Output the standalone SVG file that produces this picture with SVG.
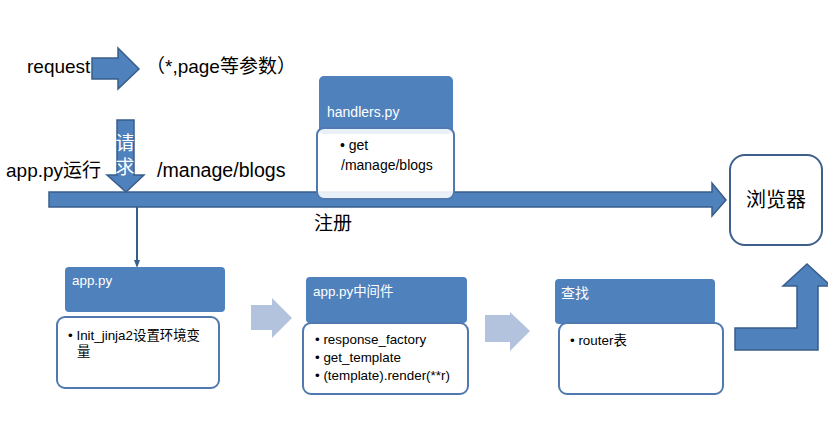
<svg xmlns="http://www.w3.org/2000/svg" width="828" height="448" viewBox="0 0 828 448">
<defs>
<style>
.blk{fill:#4f81bd;stroke:#385d8a;stroke-width:1.5}
.lt{fill:#b3c3de;stroke:none}
.hdr{fill:#4f81bd;stroke:none}
.box{fill:#ffffff;fill-opacity:0.88;stroke:#5079b0;stroke-width:2}
.t{font-family:"Liberation Sans","Noto Sans CJK SC",sans-serif;fill:#000}
.w{font-family:"Liberation Sans","Noto Sans CJK SC",sans-serif;fill:#ffffff}
.s13{font-size:13.4px}
.s19{font-size:19px}
</style>
<marker id="ah" markerWidth="8" markerHeight="6" refX="4" refY="3" orient="auto" markerUnits="userSpaceOnUse">
<path d="M0,0 L8,3 L0,6 Z" fill="#385d8a"/>
</marker>
</defs>
<rect width="828" height="448" fill="#ffffff"/>

<g id="connectors">
<path class="blk" d="M92,58 L118,58 L118,48 L139,69 L118,89 L118,79 L92,79 Z"/>
<path class="blk" d="M117,120 L134,120 L134,175 L144,175 L126,192 L107,175 L117,175 Z"/>
<path class="blk" d="M49,192 L712,192 L712,183 L726,200 L712,216 L712,207 L49,207 Z"/>
<line x1="137" y1="207" x2="137" y2="264" stroke="#385d8a" stroke-width="2" marker-end="url(#ah)"/>
<path class="lt" d="M251,305 L272,305 L272,298 L292,318 L272,338 L272,330 L251,330 Z"/>
<path class="lt" d="M485,315 L510,315 L510,312 L530,331 L510,351 L510,342 L485,342 Z"/>
<path class="blk" d="M735,328 L797,328 L797,286 L783,286 L807,264 L831,286 L818,286 L818,350 L735,350 Z"/>
<text class="w" style="font-size:19px" x="125" y="150" text-anchor="middle">请</text>
<text class="w" style="font-size:19px" x="125" y="174" text-anchor="middle">求</text>
</g>

<g id="labels">
<text class="t s19" x="27" y="73">request</text>
<text class="t s19" x="146" y="73">（*,page等参数）</text>
<text class="t s19" x="6" y="177">app.py运行</text>
<text class="t" style="font-size:19.6px" x="157" y="177">/manage/blogs</text>
<text class="t s19" x="314" y="230">注册</text>
</g>

<g id="handlers">
<rect class="hdr" x="319" y="76" width="134" height="58" rx="5"/>
<text class="w" style="font-size:14px" x="327" y="117">handlers.py</text>
<rect class="box" x="317" y="128" width="137" height="71" rx="7"/>
<text class="t" style="font-size:14px" x="340" y="150">• get</text>
<text class="t" style="font-size:14px" x="341" y="170">/manage/blogs</text>
</g>

<g id="browser">
<rect x="730" y="155" width="92" height="90" rx="15" fill="#ffffff" stroke="#3d5f8a" stroke-width="2"/>
<text class="t" style="font-size:20px" x="776" y="207" text-anchor="middle">浏览器</text>
</g>

<g id="apppy">
<rect class="hdr" x="65" y="267" width="160" height="45" rx="4"/>
<text class="w s13" x="72" y="285">app.py</text>
<rect class="box" x="57" y="317" width="162" height="71" rx="8"/>
<text class="t s13" x="68" y="340">• Init_jinja2设置环境变</text>
<text class="t s13" x="77" y="356">量</text>
</g>

<g id="middleware">
<rect class="hdr" x="306" y="277" width="161" height="46" rx="4"/>
<text class="w s13" x="313" y="296">app.py中间件</text>
<rect class="box" x="303" y="323" width="165" height="71" rx="8"/>
<text class="t s13" x="315" y="344">• response_factory</text>
<text class="t s13" x="315" y="362">• get_template</text>
<text class="t s13" x="315" y="380">• (template).render(**r)</text>
</g>

<g id="lookup">
<rect class="hdr" x="555" y="279" width="160" height="45" rx="4"/>
<text class="w" style="font-size:14px" x="561" y="298">查找</text>
<rect class="box" x="559" y="323" width="164" height="71" rx="8"/>
<text class="t s13" x="570" y="345">• router表</text>
</g>
</svg>
